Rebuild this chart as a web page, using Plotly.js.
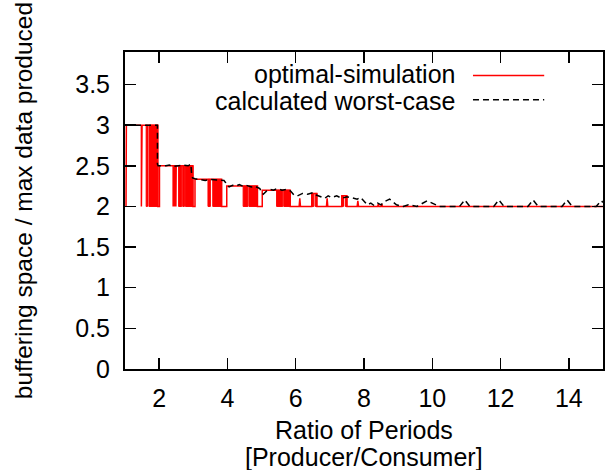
<!DOCTYPE html>
<html>
<head>
<meta charset="utf-8">
<script src="https://cdn.plot.ly/plotly-3.0.1.min.js"></script>
<style>html,body{margin:0;padding:0;background:#fff;}#chart{width:605px;height:470px;}</style>
</head>
<body>
<div id="chart"></div>
<script>
// optimal-simulation (red) outline points
var simX = [1.03,1.04,1.48,1.48,1.50,1.50,1.96,1.96,2.01,2.01,2.41,2.41,2.42,2.42,2.45,2.45,2.46,2.46,2.49,2.49,2.50,2.50,2.99,2.99,3.05,3.05,3.83,3.83,3.98,3.98,4.88,4.88,5.02,5.02,5.84,5.84,6.10,6.12,6.14,6.30,6.47,6.47,6.62,6.62,6.90,6.92,6.94,7.20,7.35,7.35,7.50,7.50,7.80,7.82,7.84,8.40,8.42,8.44,8.50,8.52,8.54,15.0];
var simY = [2.0,3.0,3.0,2.0,2.0,3.0,3.0,2.0,2.0,2.5,2.5,2.0,2.0,2.5,2.5,2.0,2.0,2.5,2.5,2.0,2.0,2.5,2.5,2.0,2.0,2.333,2.333,2.0,2.0,2.25,2.25,2.0,2.0,2.2,2.2,2.0,2.0,2.10,2.0,2.0,2.0,2.16,2.16,2.0,2.0,2.10,2.0,2.0,2.0,2.13,2.13,2.0,2.0,2.07,2.0,2.0,2.03,2.0,2.0,2.03,2.0,2.0];
// dense oscillation blocks of the simulation: start, end, top value
var denseStart = [1.62,1.70,2.57,2.69,2.77,3.43,3.57,4.46,4.63,5.44,5.65,6.47,6.57,7.35,7.45];
var denseEnd   = [1.66,1.96,2.66,2.74,2.99,3.50,3.83,4.60,4.88,5.62,5.84,6.53,6.62,7.40,7.50];
var denseTop   = [3.0,3.0,2.5,2.5,2.5,2.333,2.333,2.25,2.25,2.2,2.2,2.16,2.16,2.13,2.13];
// calculated worst-case (black dashed)
var wcX = [1.0,1.95,1.95,1.97,2.2,2.3,2.4,2.6,2.7,2.85,2.93,2.95,2.98,3.05,3.2,3.35,3.5,3.7,3.9,3.95,3.97,4.05,4.15,4.25,4.35,4.45,4.55,4.7,4.8,4.9,4.95,5.0,5.05,5.15,5.25,5.35,5.45,5.6,5.75,5.85,5.9,5.95,6.05,6.2,6.35,6.5,6.6,6.75,6.85,6.95,7.05,7.2,7.35,7.5,7.6,7.7,7.8,7.9,8.0,8.1,8.2,8.3,8.4,8.5,8.6,8.75,8.95,9.15,9.3,9.55,9.85,10.2,10.8,10.95,11.1,11.8,11.95,12.1,12.8,12.95,13.1,13.8,13.95,14.1,14.8,14.95,15.0];
var wcY = [3.0,3.0,2.52,2.5,2.5,2.51,2.49,2.5,2.51,2.5,2.52,2.40,2.35,2.34,2.333,2.32,2.333,2.33,2.32,2.29,2.27,2.24,2.26,2.25,2.27,2.25,2.26,2.24,2.25,2.23,2.22,2.17,2.15,2.19,2.21,2.2,2.22,2.2,2.21,2.19,2.16,2.14,2.13,2.16,2.15,2.17,2.14,2.12,2.1,2.13,2.11,2.13,2.1,2.12,2.11,2.1,2.09,2.11,2.07,2.02,2.04,2.01,2.04,2.02,2.06,2.09,2.02,2.0,2.02,2.0,2.07,2.0,2.0,2.08,2.0,2.0,2.08,2.0,2.0,2.08,2.0,2.0,2.08,2.0,2.0,2.07,2.05];
var xTicks = [2,4,6,8,10,12,14];
var yTicks = [0,0.5,1,1.5,2,2.5,3,3.5];
var yTickText = ["0","0.5","1","1.5","2","2.5","3","3.5"];
var seriesNames = ["optimal-simulation","calculated worst-case"];
var xTitleLines = ["Ratio of Periods","[Producer/Consumer]"];
var yTitle = "buffering space / max data produced";

var px = [], py = [];
for (var i = 0; i < denseStart.length; i++) {
  px.push(denseStart[i], denseStart[i], denseEnd[i], denseEnd[i], denseStart[i], null);
  py.push(2.0, denseTop[i], denseTop[i], 2.0, 2.0, null);
}
var FONT = "Liberation Sans, Arial, Helvetica, sans-serif";
var F25 = {family: FONT, size: 25, color: "#000"};
var traces = [
  {x: px, y: py, mode: "lines", fill: "toself", fillcolor: "#ff0000", line: {color: "#ff0000", width: 1}, showlegend: false, hoverinfo: "skip"},
  {x: simX, y: simY, mode: "lines", name: seriesNames[0], line: {color: "#ff0000", width: 1.5}, showlegend: false},
  {x: wcX, y: wcY, mode: "lines", name: seriesNames[1], line: {color: "#000000", width: 1.5, dash: "6px,4px"}, showlegend: false}
];
var layout = {
  width: 605, height: 470,
  margin: {l: 125, r: 2, t: 52, b: 101},
  paper_bgcolor: "#fff", plot_bgcolor: "#fff",
  font: F25,
  showlegend: false,
  xaxis: {
    range: [1, 15], tickvals: xTicks, ticks: "inside", ticklen: 11, tickwidth: 1.5, tickcolor: "#000",
    showline: true, linewidth: 2, linecolor: "#000", mirror: "ticks", showgrid: false, zeroline: false,
    tickfont: F25, ticklabelstandoff: 6
  },
  yaxis: {
    range: [0, 3.9], tickvals: yTicks, ticktext: yTickText, ticks: "inside", ticklen: 11, tickwidth: 1.5, tickcolor: "#000",
    showline: true, linewidth: 2, linecolor: "#000", mirror: "ticks", showgrid: false, zeroline: false,
    tickfont: F25, ticklabelstandoff: 8
  },
  annotations: [
    {xref: "paper", yref: "paper", x: 0.695, y: 0.9306, xanchor: "right", yanchor: "middle", text: seriesNames[0], showarrow: false, font: F25},
    {xref: "paper", yref: "paper", x: 0.695, y: 0.8454, xanchor: "right", yanchor: "middle", text: seriesNames[1], showarrow: false, font: F25},
    {xref: "paper", yref: "paper", x: 0.5, y: -0.1924, xanchor: "center", yanchor: "middle", text: xTitleLines[0], showarrow: false, font: F25},
    {xref: "paper", yref: "paper", x: 0.5, y: -0.2776, xanchor: "center", yanchor: "middle", text: xTitleLines[1], showarrow: false, font: F25},
    {xref: "paper", yref: "paper", x: -0.2108, y: 0.530, xanchor: "center", yanchor: "middle", textangle: -90, text: yTitle, showarrow: false, font: {family: FONT, size: 24.5, color: "#000"}}
  ],
  shapes: [
    {type: "line", xref: "paper", yref: "paper", x0: 0.728, x1: 0.877, y0: 0.926, y1: 0.926, line: {color: "#ff0000", width: 1.5}},
    {type: "line", xref: "paper", yref: "paper", x0: 0.728, x1: 0.877, y0: 0.849, y1: 0.849, line: {color: "#000", width: 1.5, dash: "6px,4px"}}
  ]
};
Plotly.newPlot("chart", traces, layout, {displayModeBar: false, staticPlot: true});
</script>
</body>
</html>
